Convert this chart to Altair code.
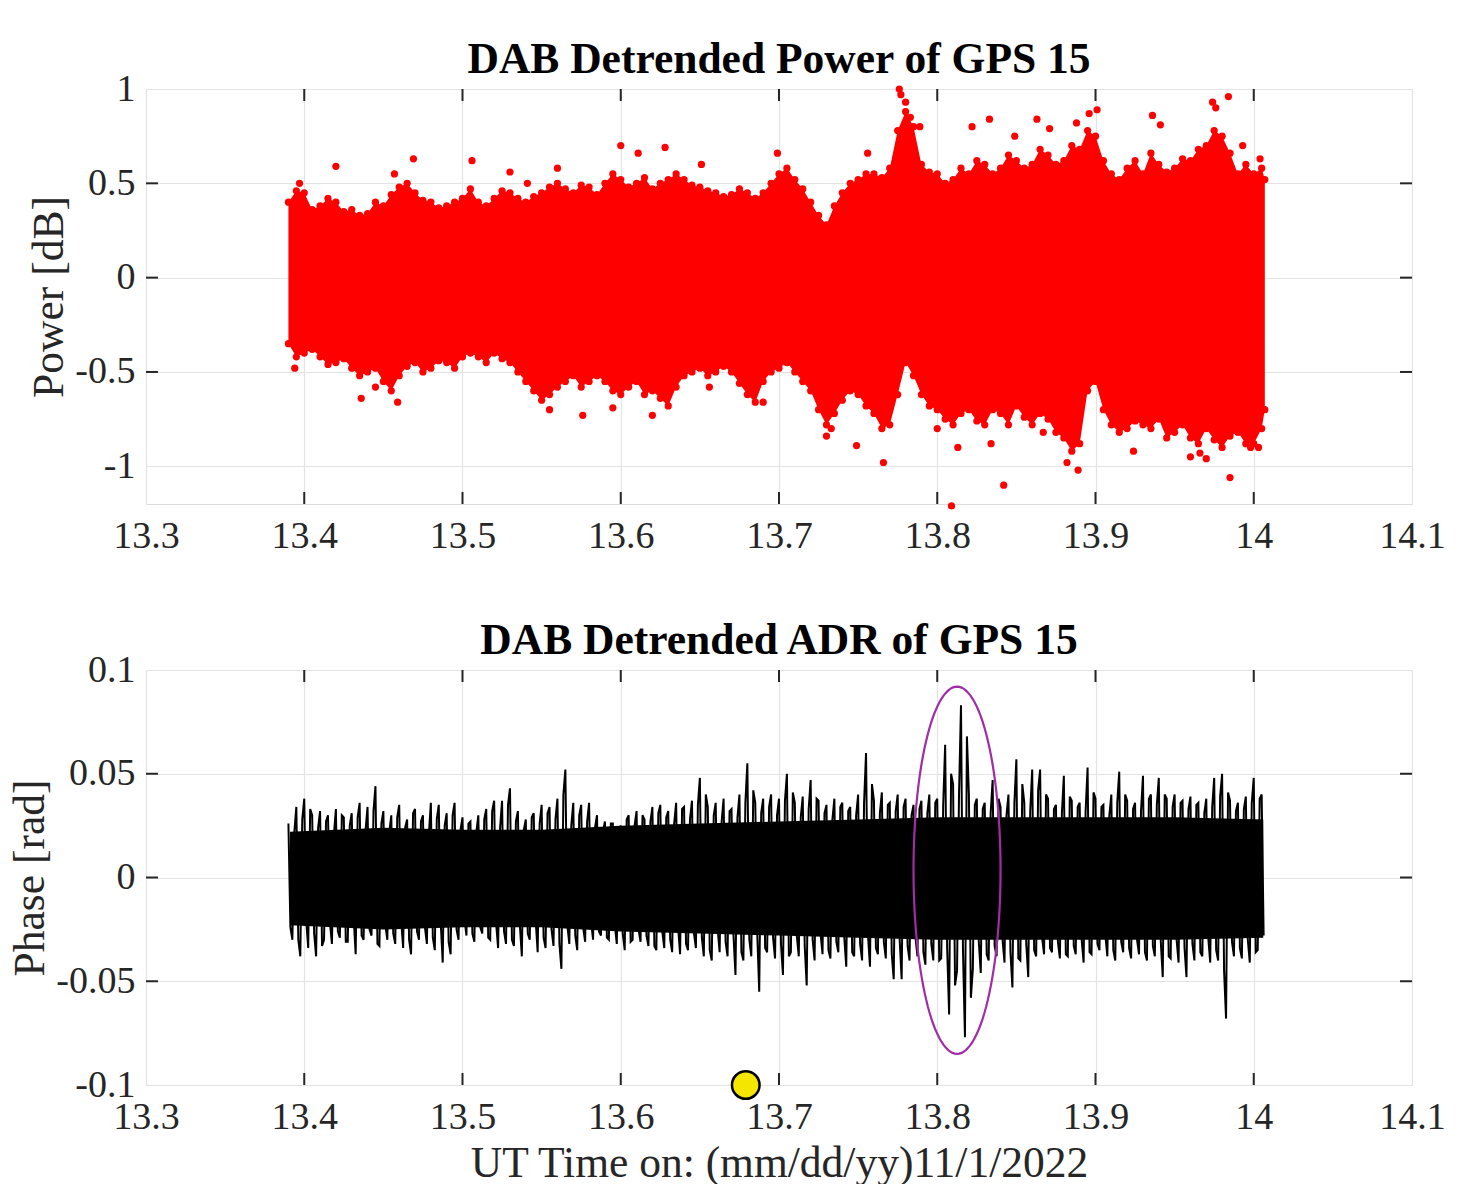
import altair as alt
import pandas as pd
import numpy as np

# ---------------- axis ticks ----------------
x_ticks = [13.3, 13.4, 13.5, 13.6, 13.7, 13.8, 13.9, 14.0, 14.1]
pow_ticks = [-1, -0.5, 0, 0.5, 1]
adr_ticks = [-0.1, -0.05, 0, 0.05, 0.1]

top_title = "DAB Detrended Power of GPS 15"
bottom_title = "DAB Detrended ADR of GPS 15"
x_title = "UT Time on: (mm/dd/yy)11/1/2022"

# ---------------- detrended power (dense red scatter) ----------------
# dense-core envelope, sampled every 0.01 h from 13.39 (last sample 14.007)
pow_t = [13.39, 13.40, 13.41, 13.42, 13.43, 13.44, 13.45, 13.46, 13.47, 13.48,
         13.49, 13.50, 13.51, 13.52, 13.53, 13.54, 13.55, 13.56, 13.57, 13.58,
         13.59, 13.60, 13.61, 13.62, 13.63, 13.64, 13.65, 13.66, 13.67, 13.68,
         13.69, 13.70, 13.71, 13.72, 13.73, 13.74, 13.75, 13.76, 13.77, 13.78,
         13.79, 13.80, 13.81, 13.82, 13.83, 13.84, 13.85, 13.86, 13.87, 13.88,
         13.89, 13.90, 13.91, 13.92, 13.93, 13.94, 13.95, 13.96, 13.97, 13.98,
         13.99, 14.00, 14.007]
pow_upper = [0.40, 0.45, 0.38, 0.40, 0.36, 0.34, 0.38, 0.48, 0.45, 0.40,
             0.38, 0.42, 0.40, 0.42, 0.45, 0.40, 0.45, 0.50, 0.45, 0.48,
             0.50, 0.52, 0.50, 0.47, 0.52, 0.52, 0.48, 0.45, 0.44, 0.45,
             0.45, 0.55, 0.52, 0.40, 0.28, 0.45, 0.52, 0.55, 0.58, 0.88,
             0.60, 0.55, 0.52, 0.55, 0.60, 0.58, 0.62, 0.60, 0.65, 0.62,
             0.68, 0.75, 0.55, 0.58, 0.55, 0.60, 0.58, 0.62, 0.70, 0.75,
             0.55, 0.55, 0.52]
pow_lower = [-0.35, -0.40, -0.42, -0.45, -0.48, -0.50, -0.55, -0.52, -0.45, -0.48,
             -0.45, -0.42, -0.42, -0.40, -0.45, -0.55, -0.65, -0.58, -0.52, -0.55,
             -0.55, -0.62, -0.55, -0.60, -0.68, -0.52, -0.48, -0.50, -0.50, -0.62,
             -0.55, -0.48, -0.50, -0.60, -0.78, -0.65, -0.62, -0.72, -0.78, -0.45,
             -0.62, -0.70, -0.78, -0.70, -0.78, -0.72, -0.68, -0.78, -0.75, -0.85,
             -0.88, -0.55, -0.78, -0.80, -0.78, -0.75, -0.82, -0.85, -0.80, -0.90,
             -0.82, -0.88, -0.70]
# half-step samples of the same envelope (13.395 ... 14.005)
pow_mid_t = [13.395, 13.405, 13.415, 13.425, 13.435, 13.445, 13.455, 13.465, 13.475, 13.485,
             13.495, 13.505, 13.515, 13.525, 13.535, 13.545, 13.555, 13.565, 13.575, 13.585,
             13.595, 13.605, 13.615, 13.625, 13.635, 13.645, 13.655, 13.665, 13.675, 13.685,
             13.695, 13.705, 13.715, 13.725, 13.735, 13.745, 13.755, 13.765, 13.775, 13.785,
             13.795, 13.805, 13.815, 13.825, 13.835, 13.845, 13.855, 13.865, 13.875, 13.885,
             13.895, 13.905, 13.915, 13.925, 13.935, 13.945, 13.955, 13.965, 13.975, 13.985,
             13.995, 14.005]
pow_mid_upper = [0.46, 0.36, 0.42, 0.35, 0.33, 0.40, 0.44, 0.50, 0.41, 0.37,
                 0.40, 0.47, 0.38, 0.46, 0.42, 0.43, 0.48, 0.47, 0.49, 0.44,
                 0.55, 0.48, 0.53, 0.50, 0.55, 0.49, 0.46, 0.43, 0.47, 0.42,
                 0.50, 0.58, 0.47, 0.33, 0.38, 0.50, 0.55, 0.53, 0.78, 0.80,
                 0.56, 0.50, 0.58, 0.62, 0.55, 0.65, 0.58, 0.68, 0.60, 0.70,
                 0.78, 0.62, 0.52, 0.62, 0.66, 0.56, 0.63, 0.68, 0.78, 0.66,
                 0.60, 0.58]
pow_mid_lower = [-0.42, -0.38, -0.46, -0.43, -0.52, -0.48, -0.60, -0.47, -0.50, -0.44,
                 -0.48, -0.40, -0.45, -0.43, -0.50, -0.60, -0.62, -0.55, -0.58, -0.52,
                 -0.60, -0.58, -0.62, -0.64, -0.58, -0.50, -0.52, -0.47, -0.56, -0.66,
                 -0.50, -0.45, -0.55, -0.70, -0.72, -0.60, -0.68, -0.80, -0.62, -0.52,
                 -0.68, -0.75, -0.72, -0.76, -0.70, -0.78, -0.74, -0.72, -0.82, -0.92,
                 -0.60, -0.70, -0.82, -0.76, -0.80, -0.85, -0.78, -0.88, -0.86, -0.84,
                 -0.88, -0.80]
# isolated points outside the dense core
spike_t = [13.394, 13.397, 13.420, 13.436, 13.445, 13.457, 13.459, 13.469, 13.506, 13.530,
           13.541, 13.555, 13.560, 13.576, 13.595, 13.600, 13.611, 13.620, 13.628, 13.651,
           13.656, 13.690, 13.699, 13.730, 13.733, 13.749, 13.756, 13.766, 13.776, 13.777,
           13.780, 13.783, 13.789, 13.800, 13.809, 13.813, 13.822, 13.833, 13.834, 13.842,
           13.849, 13.863, 13.867, 13.871, 13.882, 13.888, 13.889, 13.896, 13.901, 13.924,
           13.936, 13.941, 13.960, 13.966, 13.970, 13.974, 13.976, 13.984, 13.985, 13.993,
           13.998, 14.003, 14.004]
spike_p = [-0.48, 0.50, 0.59, -0.64, -0.58, 0.55, -0.66, 0.63, 0.62, 0.56,
           0.50, -0.70, 0.58, -0.73, -0.69, 0.70, 0.66, -0.73, 0.69, 0.60,
           -0.58, -0.66, 0.66, -0.84, -0.80, -0.89, 0.66, -0.98, 1.00, 0.97,
           0.93, 0.85, 0.80, -0.80, -1.21, -0.90, 0.80, 0.84, -0.88, -1.10,
           0.75, 0.84, -0.82, 0.79, -0.98, 0.82, -1.02, 0.87, 0.89, -0.92,
           0.86, 0.81, -0.95, -0.93, -0.96, 0.93, 0.90, 0.96, -1.06, 0.70,
           -0.90, -0.90, 0.63]

# ---------------- detrended ADR (dense black line) ----------------
adr_core_t = [13.391, 13.45, 13.50, 13.55, 13.60, 13.65, 13.70, 13.75, 13.80, 13.85, 13.90, 13.95, 14.006]
adr_core_hi = [0.022, 0.024, 0.023, 0.023, 0.025, 0.026, 0.027, 0.028, 0.029, 0.029, 0.029, 0.029, 0.028]
adr_core_lo = [-0.023, -0.025, -0.024, -0.024, -0.026, -0.027, -0.028, -0.029, -0.030, -0.030, -0.030, -0.030, -0.029]

# large positive swings, every 0.005 h from 13.390
adr_peak_up = [0.026, 0.034, 0.038, 0.030, 0.032, 0.030, 0.033, 0.029, 0.031, 0.036,
               0.034, 0.044, 0.032, 0.030, 0.035, 0.028, 0.033, 0.030, 0.036, 0.035,
               0.031, 0.036, 0.029, 0.027, 0.030, 0.033, 0.037, 0.037, 0.043, 0.032,
               0.028, 0.031, 0.035, 0.034, 0.038, 0.052, 0.036, 0.035, 0.036, 0.030,
               0.027, 0.026, 0.025, 0.030, 0.032, 0.028, 0.034, 0.035, 0.032, 0.036,
               0.034, 0.037, 0.048, 0.034, 0.036, 0.038, 0.033, 0.040, 0.055, 0.036,
               0.038, 0.040, 0.038, 0.050, 0.036, 0.039, 0.047, 0.037, 0.035, 0.038,
               0.036, 0.034, 0.040, 0.060, 0.037, 0.041, 0.036, 0.040, 0.038, 0.035,
               0.037, 0.040, 0.038, 0.064, 0.045, 0.083, 0.040, 0.038, 0.036, 0.047,
               0.034, 0.040, 0.057, 0.036, 0.052, 0.052, 0.038, 0.035, 0.049, 0.037,
               0.036, 0.053, 0.038, 0.035, 0.040, 0.051, 0.037, 0.036, 0.049, 0.040,
               0.048, 0.038, 0.040, 0.037, 0.039, 0.036, 0.038, 0.048, 0.050, 0.037,
               0.036, 0.039, 0.048, 0.040]
# small negative swings, every 0.005 h from 13.39125
adr_mid_dn = [-0.024, -0.030, -0.021, -0.027, -0.033, -0.022, -0.026, -0.031, -0.020, -0.028,
              -0.025, -0.032, -0.023, -0.027, -0.021, -0.030, -0.026, -0.024, -0.029, -0.022,
              -0.031, -0.025, -0.020, -0.027, -0.024, -0.029, -0.022, -0.026, -0.030, -0.023,
              -0.027, -0.021, -0.029, -0.025, -0.032, -0.023, -0.028, -0.024, -0.021, -0.026,
              -0.029, -0.023, -0.027, -0.031, -0.025, -0.028, -0.033, -0.026, -0.030, -0.024,
              -0.032, -0.027, -0.029, -0.035, -0.025, -0.031, -0.028, -0.036, -0.030, -0.027,
              -0.034, -0.029, -0.032, -0.038, -0.028, -0.033, -0.030, -0.027, -0.035, -0.031,
              -0.029, -0.036, -0.032, -0.028, -0.034, -0.031, -0.037, -0.030, -0.033, -0.029,
              -0.036, -0.032, -0.040, -0.034, -0.052, -0.035, -0.058, -0.031, -0.037, -0.033,
              -0.030, -0.036, -0.039, -0.032, -0.035, -0.029, -0.034, -0.031, -0.037, -0.033,
              -0.030, -0.036, -0.032, -0.028, -0.035, -0.031, -0.034, -0.030, -0.036, -0.033,
              -0.031, -0.038, -0.030, -0.034, -0.032, -0.036, -0.029, -0.035, -0.045, -0.031,
              -0.034, -0.030, -0.036, -0.028]
# large negative swings, every 0.005 h from 13.3925
adr_peak_dn = [-0.030, -0.038, -0.034, -0.038, -0.030, -0.032, -0.029, -0.031, -0.037, -0.030,
               -0.028, -0.033, -0.030, -0.032, -0.034, -0.037, -0.030, -0.032, -0.035, -0.041,
               -0.037, -0.030, -0.028, -0.031, -0.027, -0.030, -0.034, -0.032, -0.033, -0.038,
               -0.030, -0.036, -0.034, -0.033, -0.044, -0.032, -0.035, -0.031, -0.030, -0.028,
               -0.030, -0.032, -0.035, -0.030, -0.031, -0.033, -0.035, -0.034, -0.036, -0.037,
               -0.035, -0.034, -0.038, -0.040, -0.036, -0.038, -0.047, -0.040, -0.038, -0.055,
               -0.036, -0.039, -0.047, -0.036, -0.038, -0.052, -0.040, -0.037, -0.039, -0.036,
               -0.043, -0.038, -0.040, -0.043, -0.037, -0.039, -0.049, -0.049, -0.040, -0.038,
               -0.042, -0.040, -0.039, -0.066, -0.045, -0.077, -0.044, -0.046, -0.040, -0.038,
               -0.041, -0.053, -0.040, -0.048, -0.038, -0.037, -0.036, -0.039, -0.038, -0.037,
               -0.041, -0.037, -0.035, -0.038, -0.040, -0.036, -0.039, -0.037, -0.040, -0.038,
               -0.048, -0.039, -0.041, -0.048, -0.040, -0.038, -0.041, -0.040, -0.068, -0.038,
               -0.039, -0.041, -0.035]
# small positive swings, every 0.005 h from 13.39375
adr_mid_up = [0.022, 0.028, 0.033, 0.024, 0.027, 0.021, 0.030, 0.025, 0.029, 0.023,
              0.032, 0.026, 0.022, 0.029, 0.024, 0.031, 0.027, 0.021, 0.028, 0.025,
              0.030, 0.023, 0.026, 0.022, 0.028, 0.032, 0.024, 0.035, 0.027, 0.023,
              0.029, 0.026, 0.031, 0.028, 0.040, 0.025, 0.030, 0.027, 0.024, 0.022,
              0.026, 0.023, 0.028, 0.025, 0.030, 0.027, 0.031, 0.029, 0.026, 0.033,
              0.028, 0.035, 0.040, 0.030, 0.027, 0.032, 0.029, 0.036, 0.042, 0.031,
              0.034, 0.030, 0.037, 0.041, 0.029, 0.033, 0.038, 0.031, 0.028, 0.034,
              0.032, 0.030, 0.036, 0.045, 0.031, 0.035, 0.032, 0.034, 0.030, 0.033,
              0.031, 0.036, 0.035, 0.050, 0.040, 0.068, 0.035, 0.033, 0.031, 0.038,
              0.030, 0.036, 0.045, 0.032, 0.042, 0.040, 0.033, 0.031, 0.039, 0.034,
              0.032, 0.041, 0.034, 0.030, 0.036, 0.040, 0.033, 0.032, 0.038, 0.035,
              0.040, 0.034, 0.036, 0.033, 0.035, 0.031, 0.034, 0.039, 0.041, 0.032,
              0.033, 0.036, 0.038]

# annotations
ellipse_center = (13.8125, 0.0035)
ellipse_radius = (0.0275, 0.0885)
marker_t, marker_v = 13.679, -0.1

# ---------------- tables ----------------
X_DOM = [13.3, 14.1]
pow_df = pd.DataFrame({"t": pow_t + pow_mid_t,
                       "lo": pow_lower + pow_mid_lower,
                       "hi": pow_upper + pow_mid_upper}).sort_values("t")
pow_edge = pd.DataFrame({"t": pow_t + pow_t + pow_mid_t + pow_mid_t + spike_t,
                         "p": pow_upper + pow_lower + pow_mid_upper + pow_mid_lower + spike_p})


def grid(start, n):
    return [round(start + 0.005 * i, 5) for i in range(n)]


adr_line = pd.DataFrame({
    "t": grid(13.390, len(adr_peak_up)) + grid(13.39125, len(adr_mid_dn))
         + grid(13.3925, len(adr_peak_dn)) + grid(13.39375, len(adr_mid_up)),
    "v": adr_peak_up + adr_mid_dn + adr_peak_dn + adr_mid_up,
}).sort_values("t")
adr_core = pd.DataFrame({"t": adr_core_t, "lo": adr_core_lo, "hi": adr_core_hi})

th = np.linspace(0, 2 * np.pi, 121)
ell = pd.DataFrame({"i": np.arange(len(th)),
                    "t": ellipse_center[0] + ellipse_radius[0] * np.cos(th),
                    "v": ellipse_center[1] + ellipse_radius[1] * np.sin(th)})
mark_df = pd.DataFrame({"t": [marker_t], "v": [marker_v]})

FONT = "Liberation Serif"
W, H = 1266, 415
TXT = "#262626"
TICK_FS = 38
LAB_FS = 43.5


def xaxis(title=None):
    kw = dict(values=x_ticks, labelExpr="'' + datum.value", grid=True, ticks=False,
              domain=False, labelFontSize=TICK_FS, labelFont=FONT, labelColor=TXT,
              labelPadding=13, gridColor="#e3e3e3", gridWidth=1.2, labelFlush=False)
    if title:
        kw.update(title=title, titleFontSize=LAB_FS, titleFont=FONT, titleFontWeight="normal",
                  titleColor=TXT, titlePadding=6)
    else:
        kw.update(title=None)
    return alt.Axis(**kw)


def yaxis(title, vals):
    return alt.Axis(values=vals, labelExpr="'' + datum.value", grid=True, ticks=False,
                    domain=False, labelFontSize=TICK_FS, labelFont=FONT, labelColor=TXT,
                    labelPadding=11, gridColor="#e3e3e3", gridWidth=1.2, title=title,
                    titleFontSize=LAB_FS, titleFont=FONT, titleFontWeight="normal",
                    titleColor=TXT, titlePadding=3)


def inward_ticks(yvals):
    xt = pd.DataFrame({"t": x_ticks[1:-1]})
    yt = pd.DataFrame({"v": yvals[1:-1]})
    base_x = alt.Chart(xt).mark_rule(color=TXT, strokeWidth=2)
    bx = base_x.encode(x=alt.X("t:Q"), y=alt.value(H), y2=alt.value(H - 12))
    tx = base_x.encode(x=alt.X("t:Q"), y=alt.value(0), y2=alt.value(12))
    base_y = alt.Chart(yt).mark_rule(color=TXT, strokeWidth=2)
    ly = base_y.encode(y=alt.Y("v:Q"), x=alt.value(0), x2=alt.value(12))
    ry = base_y.encode(y=alt.Y("v:Q"), x=alt.value(W), x2=alt.value(W - 12))
    return [bx, tx, ly, ry]


def panel_title(text):
    return alt.Chart(pd.DataFrame({"s": [text]})).mark_text(
        font=FONT, fontSize=LAB_FS, fontWeight="bold", color="#000000",
        align="center", baseline="alphabetic", clip=False
    ).encode(text="s:N", x=alt.value(W / 2), y=alt.value(-16))


xs = alt.Scale(domain=X_DOM, nice=False, zero=False)
ys1 = alt.Scale(domain=[-1.2, 1.0], nice=False, zero=False)
ys2 = alt.Scale(domain=[-0.1, 0.1], nice=False, zero=False)

RED = "#ff0000"
p_area = alt.Chart(pow_df).mark_area(color=RED, opacity=1).encode(
    x=alt.X("t:Q", scale=xs, axis=xaxis()),
    y=alt.Y("lo:Q", scale=ys1, axis=yaxis("Power [dB]", pow_ticks)),
    y2="hi:Q")
p_pts = alt.Chart(pow_edge).mark_circle(color=RED, size=52, opacity=1).encode(
    x=alt.X("t:Q"), y=alt.Y("p:Q"))

top = alt.layer(p_area, p_pts, *inward_ticks(pow_ticks), panel_title(top_title)).properties(
    width=W, height=H)

a_core = alt.Chart(adr_core).mark_area(color="#000000").encode(
    x=alt.X("t:Q", scale=xs, axis=xaxis(x_title)),
    y=alt.Y("lo:Q", scale=ys2, axis=yaxis("Phase [rad]", adr_ticks)),
    y2="hi:Q")
a_line = alt.Chart(adr_line).mark_line(color="#000000", strokeWidth=2.0).encode(
    x="t:Q", y="v:Q", order="t:Q")
a_ell = alt.Chart(ell).mark_line(color="#a02ca8", strokeWidth=2.2).encode(
    x="t:Q", y="v:Q", order="i:Q")
a_mark = alt.Chart(mark_df).mark_point(shape="circle", filled=True, fill="#f5e600",
                                       stroke="#000000", strokeWidth=2.5, size=760,
                                       opacity=1, clip=False).encode(x="t:Q", y="v:Q")

bottom = alt.layer(a_core, a_line, a_ell, *inward_ticks(adr_ticks), a_mark,
                   panel_title(bottom_title)).properties(width=W, height=H)

chart = alt.vconcat(top, bottom, spacing=62).properties(
    padding={"left": 0, "top": 29, "right": 5, "bottom": 0}
).configure_view(stroke="#262626", strokeWidth=2).configure(background="white")

chart.save("out.html", embed_options={"renderer": "svg", "actions": False})
